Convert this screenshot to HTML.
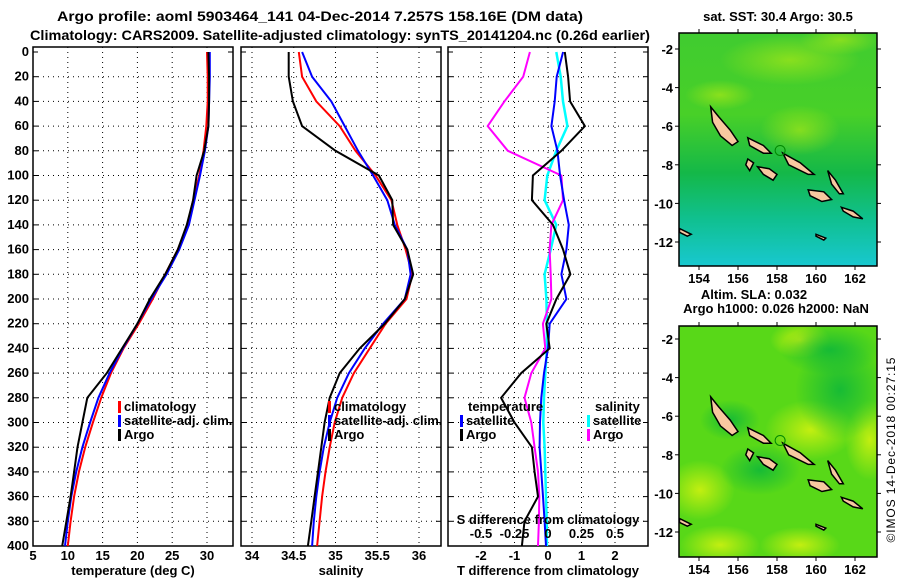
<!DOCTYPE html>
<html><head><meta charset="utf-8"><style>
body{margin:0;background:#fff;}
svg{display:block;font-family:"Liberation Sans",sans-serif;font-weight:bold;}
text{font-size:13px;}
</style></head><body>
<svg id="c" width="900" height="580" viewBox="0 0 900 580">
<defs>
<linearGradient id="g1" x1="0" y1="0" x2="0" y2="1">
<stop offset="0" stop-color="#40cc30"/><stop offset="0.35" stop-color="#48d028"/><stop offset="0.6" stop-color="#14b848"/><stop offset="0.8" stop-color="#10c090"/><stop offset="1" stop-color="#18c8d0"/></linearGradient>
<radialGradient id="y1" cx="0.5" cy="0.5" r="0.5"><stop offset="0" stop-color="#c8f010" stop-opacity="0.95"/><stop offset="1" stop-color="#c8f010" stop-opacity="0"/></radialGradient>
<radialGradient id="d1" cx="0.5" cy="0.5" r="0.5"><stop offset="0" stop-color="#10b838" stop-opacity="0.9"/><stop offset="1" stop-color="#10b838" stop-opacity="0"/></radialGradient>
</defs>
<text x="320" y="21" text-anchor="middle" textLength="526" lengthAdjust="spacingAndGlyphs" style="font-size:14px">Argo profile: aoml 5903464_141 04-Dec-2014 7.257S 158.16E (DM data)</text>
<text x="340" y="40" text-anchor="middle" textLength="620" lengthAdjust="spacingAndGlyphs" style="font-size:14px">Climatology: CARS2009. Satellite-adjusted climatology: synTS_20141204.nc (0.26d earlier)</text>
<g id="p1"></g><g id="p2"></g><g id="p3"></g><g id="m1"></g><g id="m2"></g>
<text transform="translate(895,450) rotate(-90)" text-anchor="middle" textLength="185" style="font-size:12px;font-weight:normal">©IMOS 14-Dec-2018 00:27:15</text>
</svg>
<script>
const depths=[0,20,40,60,80,100,120,140,160,180,200,220,240,260,280,300,320,340,360,380,400];
const tempClim=[30.0,30.1,30.1,29.9,29.5,28.9,28.0,27.2,25.8,24.0,22.2,20.2,18.0,16.2,14.8,13.6,12.5,11.6,10.9,10.4,10.0];
const tempSat=[30.4,30.4,30.3,30.2,29.7,29.0,28.2,27.4,26.0,24.2,22.0,20.0,17.9,16.0,14.4,13.2,12.1,11.2,10.5,10.0,9.6];
const tempArgo=[30.2,30.3,30.3,30.2,29.6,28.5,28.0,27.1,25.8,24.0,21.8,20.0,17.8,15.6,12.8,12.1,11.4,10.9,10.4,9.8,9.2];
const salClim=[34.56,34.6,34.77,35.05,35.24,35.48,35.67,35.74,35.84,35.92,35.85,35.6,35.41,35.22,35.08,34.99,34.93,34.88,34.84,34.81,34.78];
const salSat=[34.6,34.72,34.95,35.11,35.27,35.45,35.62,35.71,35.86,35.9,35.83,35.57,35.35,35.16,35.02,34.93,34.86,34.81,34.77,34.74,34.72];
const salArgo=[34.44,34.44,34.49,34.6,35.0,35.52,35.68,35.69,35.86,35.93,35.83,35.59,35.29,35.05,34.93,34.87,34.83,34.79,34.75,34.71,34.67];
const tDiffSat=[0.45,0.26,0.2,0.1,0.28,0.36,0.48,0.62,0.55,0.4,0.55,0.05,0.0,-0.12,-0.2,-0.24,-0.25,-0.2,-0.15,-0.1,-0.06];
const tDiffArgo=[0.5,0.6,0.66,1.1,0.4,-0.45,-0.48,0.15,0.45,0.67,0.25,-0.05,0.05,-0.8,-1.4,-1.0,-0.48,-0.4,-0.3,-0.7,-0.78];
const sDiffSat=[0.062,0.095,0.112,0.145,0.062,-0.005,-0.025,0.062,0.02,-0.025,-0.012,-0.008,-0.008,-0.02,-0.03,-0.035,-0.025,-0.02,-0.015,-0.01,-0.008];
const sDiffArgo=[-0.135,-0.185,-0.325,-0.45,-0.3,0.1,0.112,0.025,0.012,0.02,0.025,-0.038,-0.02,-0.125,-0.175,-0.125,-0.1,-0.075,-0.065,-0.068,-0.075];
const depthTicks=[0,20,40,60,80,100,120,140,160,180,200,220,240,260,280,300,320,340,360,380,400];
const tTicks=[5,10,15,20,25,30];
const sTicks=[34,34.5,35,35.5,36];
const dTicks=[-2,-1,0,1,2];
const sdTicks=[-0.5,-0.25,0,0.25,0.5];
const sdLabels=["-0.5","-0.25","0","0.25","0.5"];
const lonTicks=[154,156,158,160,162];
const latTicks=[-2,-4,-6,-8,-10,-12];

const NS="http://www.w3.org/2000/svg";
function el(p,t,a,txt){const e=document.createElementNS(NS,t);for(const k in a)e.setAttribute(k,a[k]);if(txt!==undefined)e.textContent=txt;p.appendChild(e);return e;}
const Y0=52,Y1=546;
const yD=d=>Y0+(d/400)*(Y1-Y0);

function panel(g,x0,x1,xs,ticks,labs,title,nm){
  depthTicks.forEach(d=>{if(d>0&&d<400)el(g,'line',{x1:x0,x2:x1,y1:yD(d),y2:yD(d),stroke:'#000','stroke-dasharray':'1,4'});});
  ticks.forEach(t=>{if(xs(t)>x0+2&&xs(t)<x1-2)el(g,'line',{x1:xs(t),x2:xs(t),y1:47,y2:546,stroke:'#000','stroke-dasharray':'1,4'});});
  el(g,'rect',{x:x0,y:47,width:x1-x0,height:499,fill:'none',stroke:'#000','stroke-width':1.5,});
  depthTicks.forEach(d=>{
    el(g,'line',{x1:x0,x2:x0+5,y1:yD(d),y2:yD(d),stroke:'#000'});
    el(g,'line',{x1:x1-5,x2:x1,y1:yD(d),y2:yD(d),stroke:'#000'});
  });
  ticks.forEach((t,i)=>{
    const tx=el(g,'text',{x:xs(t),y:560,'text-anchor':'middle'},labs[i]);
    
    
  });
  const tl=el(g,'text',{x:(x0+x1)/2,y:575,'text-anchor':'middle'},title);
  
  
}
function line(g,xs,vals,col,nm,w){
  const pts=vals.map((v,i)=>xs(v).toFixed(1)+','+yD(depths[i]).toFixed(1)).join(' ');
  const p=el(g,'polyline',{points:pts,fill:'none',stroke:col,'stroke-width':w||2});
  
  
}
function leg(g,x,y,col,label,nm){
  if(col)el(g,'rect',{x:x,y:y-10,width:3,height:12,fill:col});
  const t=el(g,'text',{x:x+(col?6:0),y:y},label);
  
  
}

// Panel 1
const g1=document.getElementById('p1');
const xT=v=>33+(v-5)*6.96;
panel(g1,33,233,xT,tTicks,tTicks.map(String),'temperature (deg C)','temperature-panel');
depthTicks.forEach(d=>{const t=el(g1,'text',{x:29,y:yD(d)+4,'text-anchor':'end'},String(d));});
line(g1,xT,tempClim,'#f00','temp-climatology-line');
line(g1,xT,tempSat,'#00f','temp-satellite-line');
line(g1,xT,tempArgo,'#000','temp-argo-line');
leg(g1,118,411,'#f00','climatology','legend-climatology');
leg(g1,118,425,'#00f','satellite-adj. clim.','legend-satellite');
leg(g1,118,439,'#000','Argo','legend-argo');

// Panel 2
const g2=document.getElementById('p2');
const xS=v=>252+(v-34)*83.5;
panel(g2,241,441,xS,sTicks,sTicks.map(String),'salinity','salinity-panel');
line(g2,xS,salClim,'#f00','sal-climatology-line');
line(g2,xS,salSat,'#00f','sal-satellite-line');
line(g2,xS,salArgo,'#000','sal-argo-line');
leg(g2,328,411,'#f00','climatology','legend-climatology');
leg(g2,328,425,'#00f','satellite-adj. clim.','legend-satellite');
leg(g2,328,439,'#000','Argo','legend-argo');

// Panel 3
const g3=document.getElementById('p3');
const xD=v=>548+v*33.5;
const xSD=v=>548+v*4*33.5;
panel(g3,448,648,xD,dTicks,dTicks.map(String),'T difference from climatology','tdiff-panel');
line(g3,xSD,sDiffSat,'#0ff','sdiff-satellite-line',2.5);
line(g3,xSD,sDiffArgo,'#f0f','sdiff-argo-line');
line(g3,xD,tDiffSat,'#00f','tdiff-satellite-line');
line(g3,xD,tDiffArgo,'#000','tdiff-argo-line');
leg(g3,468,411,null,'temperature','legend-temperature-heading');
leg(g3,460,425,'#00f','satellite','legend-t-satellite');
leg(g3,460,439,'#000','Argo','legend-t-argo');
leg(g3,595,411,null,'salinity','legend-salinity-heading');
leg(g3,587,425,'#0ff','satellite','legend-s-satellite');
leg(g3,587,439,'#f0f','Argo','legend-s-argo');
{const t=el(g3,'text',{x:548,y:524,'text-anchor':'middle'},'S difference from climatology');}
sdTicks.forEach((v,i)=>{const t=el(g3,'text',{x:xSD(v),y:538,'text-anchor':'middle'},sdLabels[i]);});

// Maps
const islands=[
 [[154.6,-5.0],[155.0,-5.5],[155.6,-6.2],[156.0,-6.8],[155.7,-7.0],[155.1,-6.5],[154.7,-5.8]],
 [[156.5,-6.6],[157.3,-7.0],[157.7,-7.4],[157.3,-7.4],[156.6,-7.0]],
 [[158.3,-7.4],[159.2,-7.9],[159.9,-8.5],[159.6,-8.5],[158.6,-8.0]],
 [[157.0,-8.1],[157.6,-8.2],[158.0,-8.5],[157.8,-8.8],[157.3,-8.5]],
 [[156.5,-7.7],[156.8,-7.9],[156.6,-8.3],[156.4,-8.0]],
 [[160.6,-8.3],[161.0,-8.8],[161.4,-9.5],[161.2,-9.5],[160.8,-9.0]],
 [[159.6,-9.3],[160.4,-9.4],[160.8,-9.8],[160.3,-9.9],[159.7,-9.6]],
 [[161.3,-10.2],[161.9,-10.4],[162.4,-10.8],[161.9,-10.7],[161.4,-10.4]],
 [[160.0,-11.6],[160.5,-11.8],[160.4,-11.9],[160.0,-11.7]],
 [[153.0,-11.3],[153.6,-11.6],[153.4,-11.7],[153.0,-11.5]]];
function map(gid,x0,y0,w,h,latY2,latY12,titles,nm,bg){
  const g=document.getElementById(gid);
  const lx=v=>699+(v-154)*19.5;
  const ly=v=>latY2+(v+2)*(latY12-latY2)/(-10);
  const cp='clip'+gid;
  const defs=el(g,'clipPath',{id:cp});el(defs,'rect',{x:x0,y:y0,width:w,height:h});
  const inner=el(g,'g',{'clip-path':'url(#'+cp+')'});
  bg(inner,x0,y0,w,h);
  islands.forEach(s=>{
    const e=el(inner,'polygon',{points:s.map(p=>lx(p[0]).toFixed(1)+','+ly(p[1]).toFixed(1)).join(' '),fill:'#f8c8a0',stroke:'#000','stroke-width':1.5});
    
    
  });
  el(inner,'circle',{cx:lx(158.16),cy:ly(-7.257),r:5,fill:'none',stroke:'#080','stroke-width':1});
  el(g,'rect',{x:x0,y:y0,width:w,height:h,fill:'none',stroke:'#000','stroke-width':1.5,});
  lonTicks.forEach(v=>{el(g,'line',{x1:lx(v),x2:lx(v),y1:y0+h,y2:y0+h+4,stroke:'#000'});el(g,'line',{x1:lx(v),x2:lx(v),y1:y0,y2:y0-4,stroke:'#000'});
    const t=el(g,'text',{x:lx(v),y:y0+h+17,'text-anchor':'middle'},String(v));});
  latTicks.forEach(v=>{el(g,'line',{x1:x0-4,x2:x0,y1:ly(v),y2:ly(v),stroke:'#000'});el(g,'line',{x1:x0+w,x2:x0+w+4,y1:ly(v),y2:ly(v),stroke:'#000'});
    const t=el(g,'text',{x:x0-6,y:ly(v)+5,'text-anchor':'end'},String(v));});
  titles.forEach(s=>{const t=el(g,'text',{x:s[1],y:s[2],'text-anchor':'middle'},s[0]);});
}
map('m1',679,33,198,233,49,242,[['sat. SST: 30.4 Argo: 30.5',778,21]],'sst-map',(g,x,y,w,h)=>{
  el(g,'rect',{x:x,y:y,width:w,height:h,fill:'url(#g1)'});
  [[790,60,70,25],[840,40,40,15],[720,95,35,15],[800,130,40,25]].forEach(b=>el(g,'ellipse',{cx:b[0],cy:b[1],rx:b[2],ry:b[3],fill:'url(#y1)',opacity:0.55}));
});
map('m2',679,326,198,231,339,532,[['Altim. SLA: 0.032',754,299],['Argo h1000: 0.026 h2000: NaN',776,313]],'sla-map',(g,x,y,w,h)=>{
  el(g,'rect',{x:x,y:y,width:w,height:h,fill:'#58d818'});
  [[810,430,45,30],[700,490,35,30],[720,545,40,20],[800,545,40,18],[800,340,30,18],[870,440,25,40]].forEach(b=>el(g,'ellipse',{cx:b[0],cy:b[1],rx:b[2],ry:b[3],fill:'url(#y1)'}));
  [[840,390,45,50],[830,350,50,25],[760,470,40,25],[730,420,30,20]].forEach(b=>el(g,'ellipse',{cx:b[0],cy:b[1],rx:b[2],ry:b[3],fill:'url(#d1)'}));
});
</script>
</body></html>
